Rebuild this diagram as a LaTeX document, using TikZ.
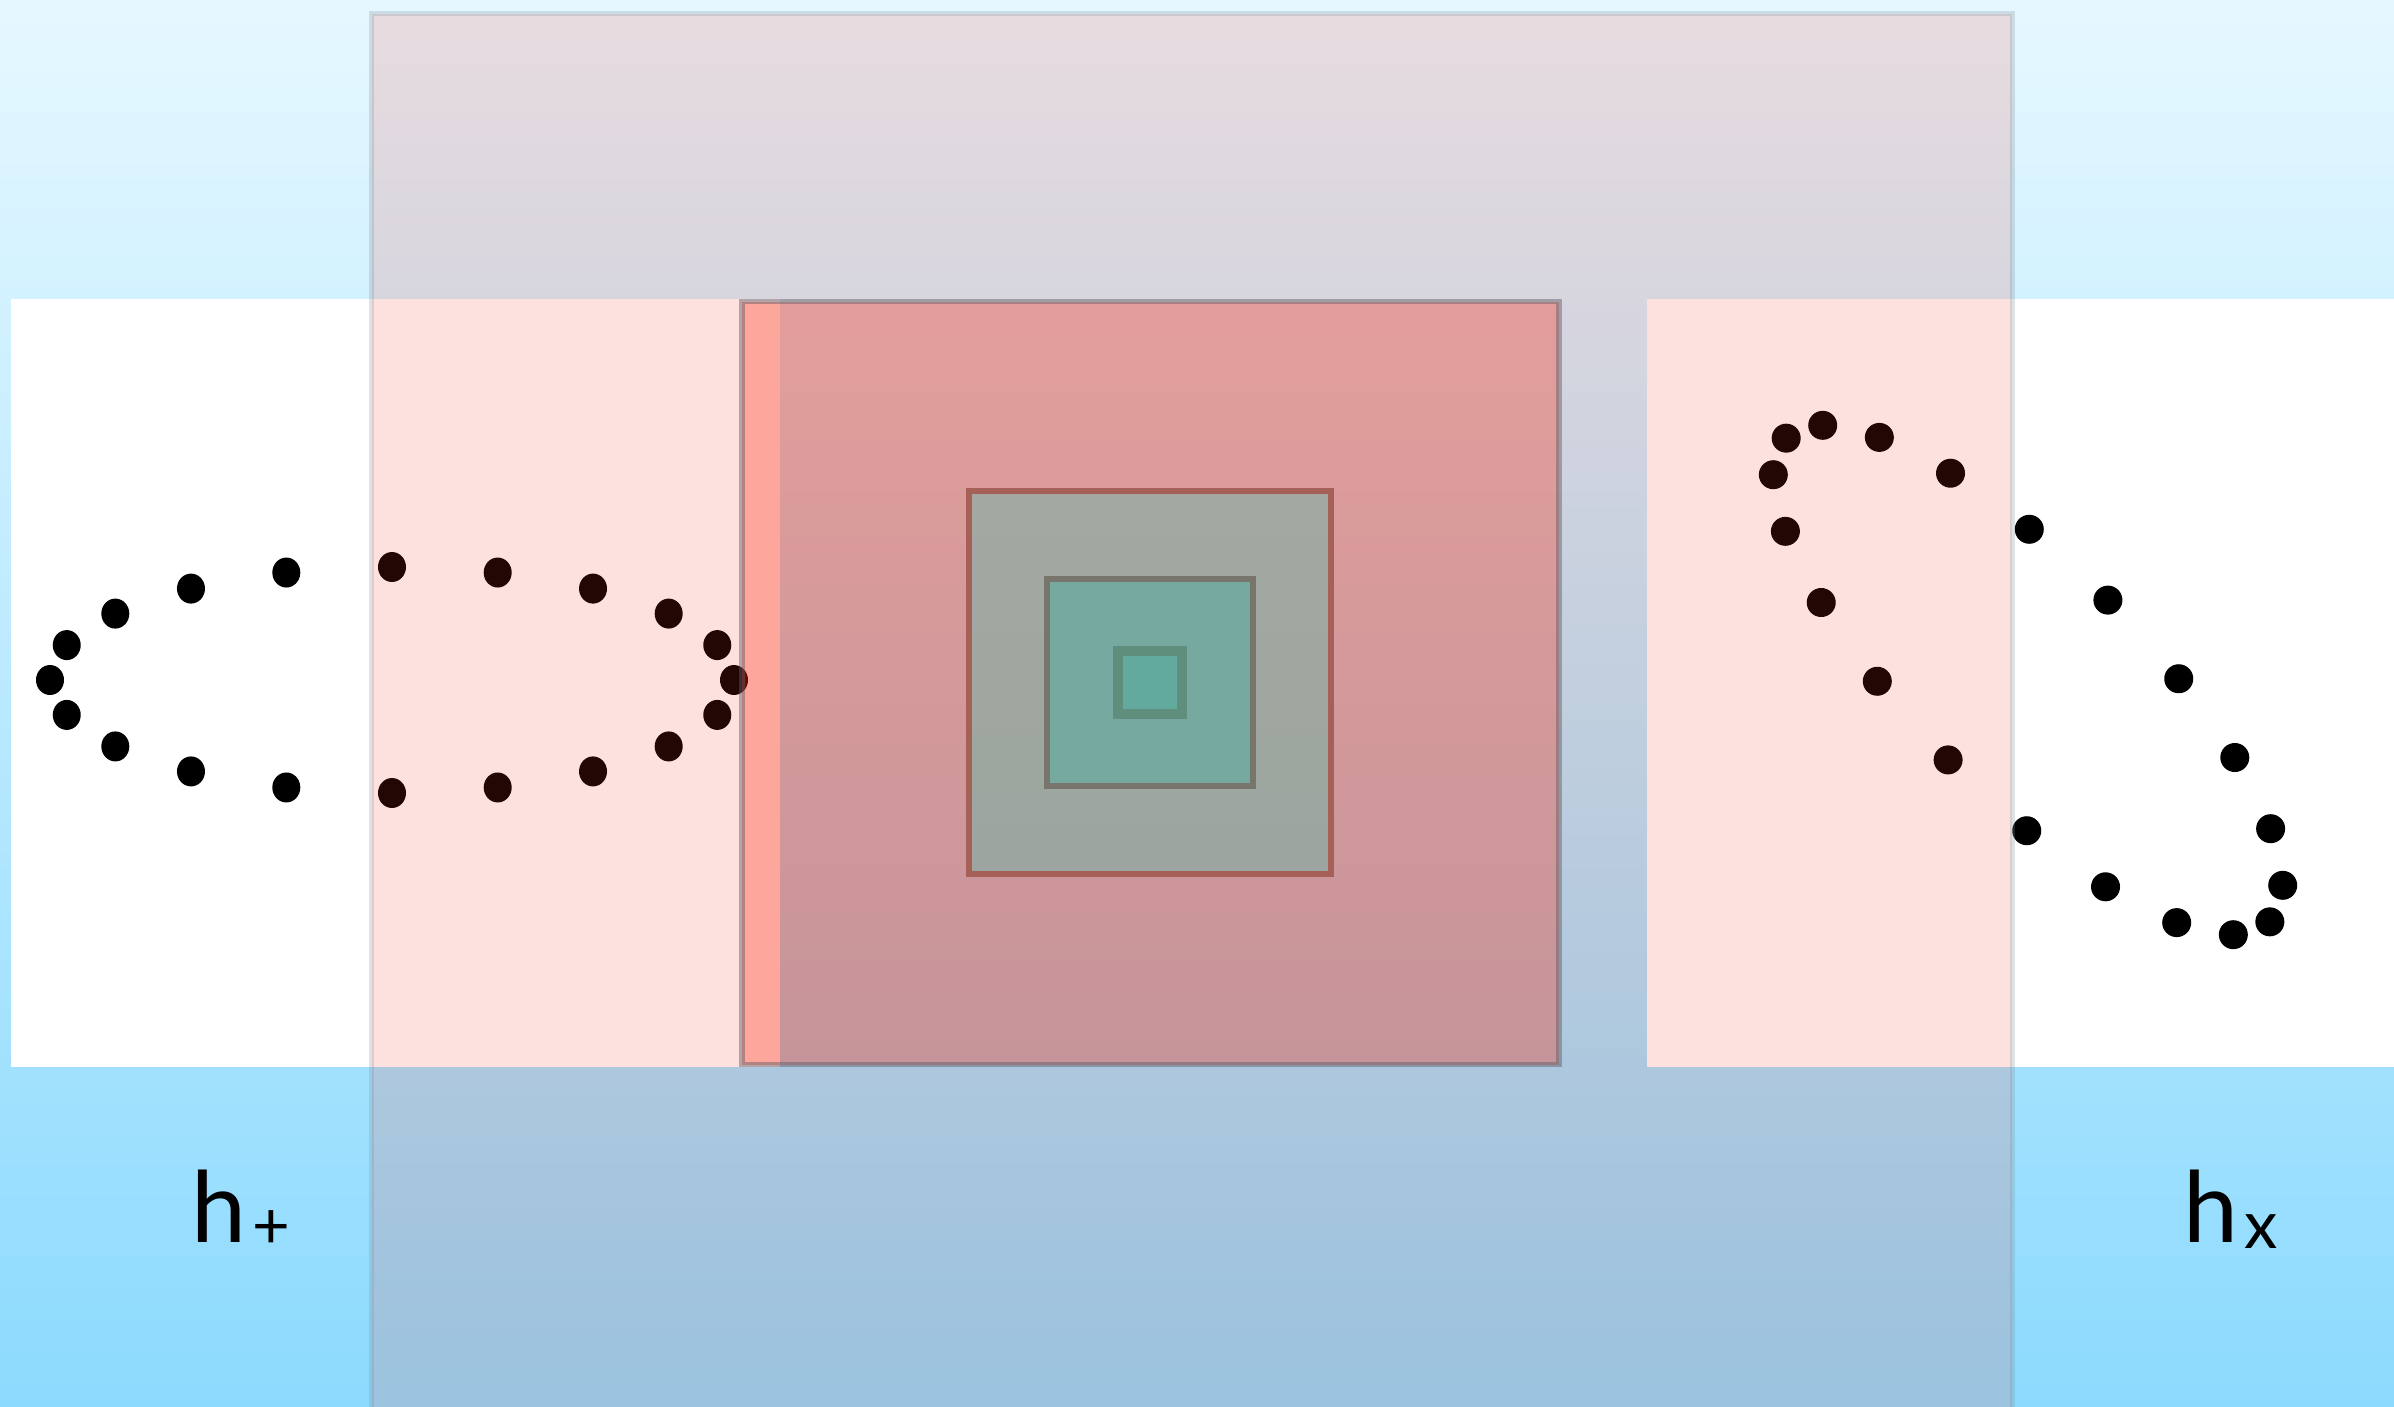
\documentclass[tikz,border=0pt]{standalone}
\usepackage{fontspec}
\usepackage{tikz}
\newfontfamily\labelfont{Lato}
\definecolor{skytop}{RGB}{230,248,255}
\definecolor{skybot}{RGB}{140,218,254}
\definecolor{wavered}{RGB}{244,54,40}
\definecolor{waveedge}{RGB}{122,140,150}
\definecolor{corered}{RGB}{255,30,0}
\definecolor{coreedge}{RGB}{90,90,100}
\definecolor{armtop}{RGB}{163,169,161}
\definecolor{armbot}{RGB}{156,165,160}
\definecolor{armedge}{RGB}{165,96,88}
\definecolor{tubefill}{RGB}{118,170,160}
\definecolor{tubeedge}{RGB}{120,118,108}
\definecolor{mirrorfill}{RGB}{98,170,158}
\definecolor{mirroredge}{RGB}{96,142,124}
\tikzset{
  panel/.style={fill=white},
  mass/.style={fill=black},
  field/.style={fill=wavered, fill opacity=0.144, draw=waveedge, draw opacity=0.25, line width=0.05cm},
  core/.style={fill=corered, fill opacity=0.3, draw=coreedge, draw opacity=0.45, line width=0.055cm},
  layer/.style={line width=0.06cm},
  pol/.style={inner sep=0pt, anchor=base west, font=\labelfont\fontsize{28}{30}\selectfont}
}
\newcommand{\polsub}[3]{\hspace{#1}\raisebox{-0.06cm}{\fontsize{#2}{#2}\selectfont #3}}

\begin{document}
\begin{tikzpicture}[x=0.01cm, y=-0.01cm]
  \useasboundingbox (0,0) rectangle (2394,1406);
  \shade[top color=skytop, bottom color=skybot] (0,0) rectangle (2394,1406);
  \fill[panel] (11,299) rectangle (780,1067);
  \fill[panel] (1647,299) rectangle (2394,1067);
  \foreach \a in {0,18,...,342}
    \fill[mass] (392,680) ++(\a:342 and 113) circle [x radius=14, y radius=15];
  \begin{scope}[shift={(2028,680)}, rotate=-45]
    \foreach \a in {0,18,...,342}
      \fill[mass] (\a:342 and 113) circle [radius=14.5];
  \end{scope}
  \draw[field] (371.5,13.5) rectangle (2012,1430);
  \draw[core] (742,301.5) rectangle (1559,1064.5);
  \draw[layer, top color=armtop, bottom color=armbot, draw=armedge] (969,491) rectangle (1331,874);
  \draw[layer, fill=tubefill, draw=tubeedge] (1046.5,579) rectangle (1253,786);
  \draw[fill=mirrorfill, draw=mirroredge, line width=0.1cm] (1118,651) rectangle (1182,714);
  \node[pol] (hplus) at (191,1242) {h\polsub{0.06cm}{18.5}{+}};
  \node[pol] (hcross) at (2183,1242) {h\polsub{0.06cm}{19}{x}};
\end{tikzpicture}
\end{document}
